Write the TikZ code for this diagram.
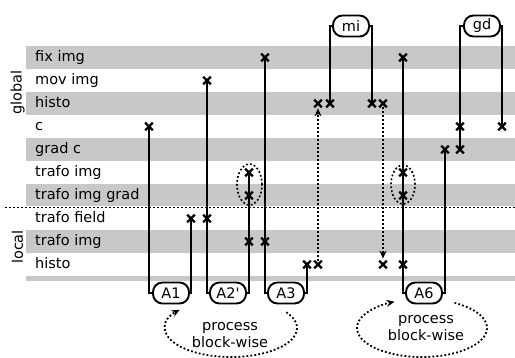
\documentclass[tikz,border=0pt]{standalone}
\usepackage{fontspec}
\setmainfont{DejaVu Sans}[Ligatures=TeXOff]
\usetikzlibrary{shapes.misc,arrows.meta,calc}
\definecolor{bandgray}{RGB}{200,200,200}
\begin{document}
\begin{tikzpicture}[x=1pt,y=-1pt,
  font=\fontsize{14.5pt}{17.5pt}\selectfont,
  band/.style={fill=bandgray, draw=none},
  rowlabel/.style={anchor=west, inner sep=0pt, text height=11pt, text depth=3.5pt},
  xmark/.style={draw, cross out, minimum size=5.5pt, inner sep=0pt, line width=2.2pt},
  conn/.style={line width=1.9pt},
  dotline/.style={line width=1.8pt, dash pattern=on 1.8pt off 2.2pt},
  algo/.style={draw, fill=white, line width=1.9pt, rounded corners=9.5pt, minimum width=36pt, minimum height=21pt, inner sep=1pt},
  darrow/.style={dotline, -{Stealth[length=8pt,width=7pt]}},
  dottedring/.style={dotline, line width=1.6pt},
]
\useasboundingbox (0,0) rectangle (515,358);
% bands
\fill[band] (26,46) rectangle (515,69);
\fill[band] (26,92) rectangle (515,115);
\fill[band] (26,138) rectangle (515,161);
\fill[band] (26,184) rectangle (515,206);
\fill[band] (26,230) rectangle (515,253);
\fill[band] (26,276) rectangle (515,281);
% separator
\draw[dotline] (5,207.5) -- (515,207.5);
% row labels
\node[rowlabel] (l1) at (35,57.5) {fix img};
\node[rowlabel] (l2) at (35,80.5) {mov img};
\node[rowlabel] (l3) at (35,103.5) {histo};
\node[rowlabel] (l4) at (35,126.5) {c};
\node[rowlabel] (l5) at (35,149.5) {grad c};
\node[rowlabel] (l6) at (35,172.5) {trafo img};
\node[rowlabel] (l7) at (35,195.5) {trafo img grad};
\node[rowlabel] (l8) at (35,218.5) {trafo field};
\node[rowlabel] (l9) at (35,241.5) {trafo img};
\node[rowlabel] (l10) at (35,264.5) {histo};
\node[rotate=90, inner sep=0pt] (glob) at (17.5,92.5) {global};
\node[rotate=90, inner sep=0pt] (loc) at (17.5,247) {local};
% crosses
\node[xmark] (xa) at (149,126.5) {};
\node[xmark] (xb) at (191,218.5) {};
\node[xmark] (xc) at (207,80.5) {};
\node[xmark] (xd) at (207,218.5) {};
\node[xmark] (xe) at (249,172.5) {};
\node[xmark] (xf) at (249,195.5) {};
\node[xmark] (xg) at (249,241.5) {};
\node[xmark] (xh) at (265,57.5) {};
\node[xmark] (xi) at (265,241.5) {};
\node[xmark] (xj) at (307,264.5) {};
\node[xmark] (xk) at (318,264.5) {};
\node[xmark] (xl) at (318,103.5) {};
\node[xmark] (xm) at (330,103.5) {};
\node[xmark] (xn) at (372,103.5) {};
\node[xmark] (xo) at (383,103.5) {};
\node[xmark] (xp) at (383,264.5) {};
\node[xmark] (xq) at (403,57.5) {};
\node[xmark] (xr) at (403,172.5) {};
\node[xmark] (xs) at (403,195.5) {};
\node[xmark] (xt) at (403,264.5) {};
\node[xmark] (xu) at (445,149.5) {};
\node[xmark] (xv) at (460,126.5) {};
\node[xmark] (xw) at (460,149.5) {};
\node[xmark] (xx) at (502,126.5) {};
% algorithm nodes
\node[algo] (A1) at (171,293) {A1};
\node[algo] (A2) at (228,293) {A2'};
\node[algo] (A3) at (286,293) {A3};
\node[algo] (A6) at (424,293) {A6};
\node[algo] (mi) at (351,26) {mi};
\node[algo] (gd) at (482,26) {gd};
% connectors
\draw[conn] (xa.center) |- (A1.west);
\draw[conn] (xb.center) |- (A1.east);
\draw[conn] (xc.center) |- (A2.west);
\draw[conn] (xe.center) |- (A2.east);
\draw[conn] (xh.center) |- (A3.west);
\draw[conn] (xj.center) |- (A3.east);
\draw[conn] (xq.center) |- (A6.west);
\draw[conn] (xu.center) |- (A6.east);
\draw[conn] (mi.west) -| (xm.center);
\draw[conn] (mi.east) -| (xn.center);
\draw[conn] (gd.west) -| (xw.center);
\draw[conn] (gd.east) -| (xx.center);
\draw[darrow, shorten >=1pt] (xk) -- (xl);
\draw[darrow, shorten >=2pt] (xo) -- (xp);
% dotted rings
\draw[dottedring] (249.5,184.5) ellipse[x radius=12.5pt, y radius=20.5pt];
\draw[dottedring] (403,184.5) ellipse[x radius=12pt, y radius=19.5pt];
% process block-wise
\coordinate (lc) at (231,328);
\coordinate (rc) at (422,328);
\node[align=center, inner sep=0pt] (pl) at (230,335) {process\\block-wise};
\node[align=center, inner sep=0pt] (pr) at (426,328) {process\\block-wise};
\draw[darrow] ($(lc)+(33:66pt and 29pt)$) arc[start angle=33, end angle=-219, x radius=66pt, y radius=29pt];
\draw[darrow] ($(rc)+(60:65pt and 29pt)$) arc[start angle=60, end angle=-245, x radius=65pt, y radius=29pt];
\end{tikzpicture}
\end{document}
